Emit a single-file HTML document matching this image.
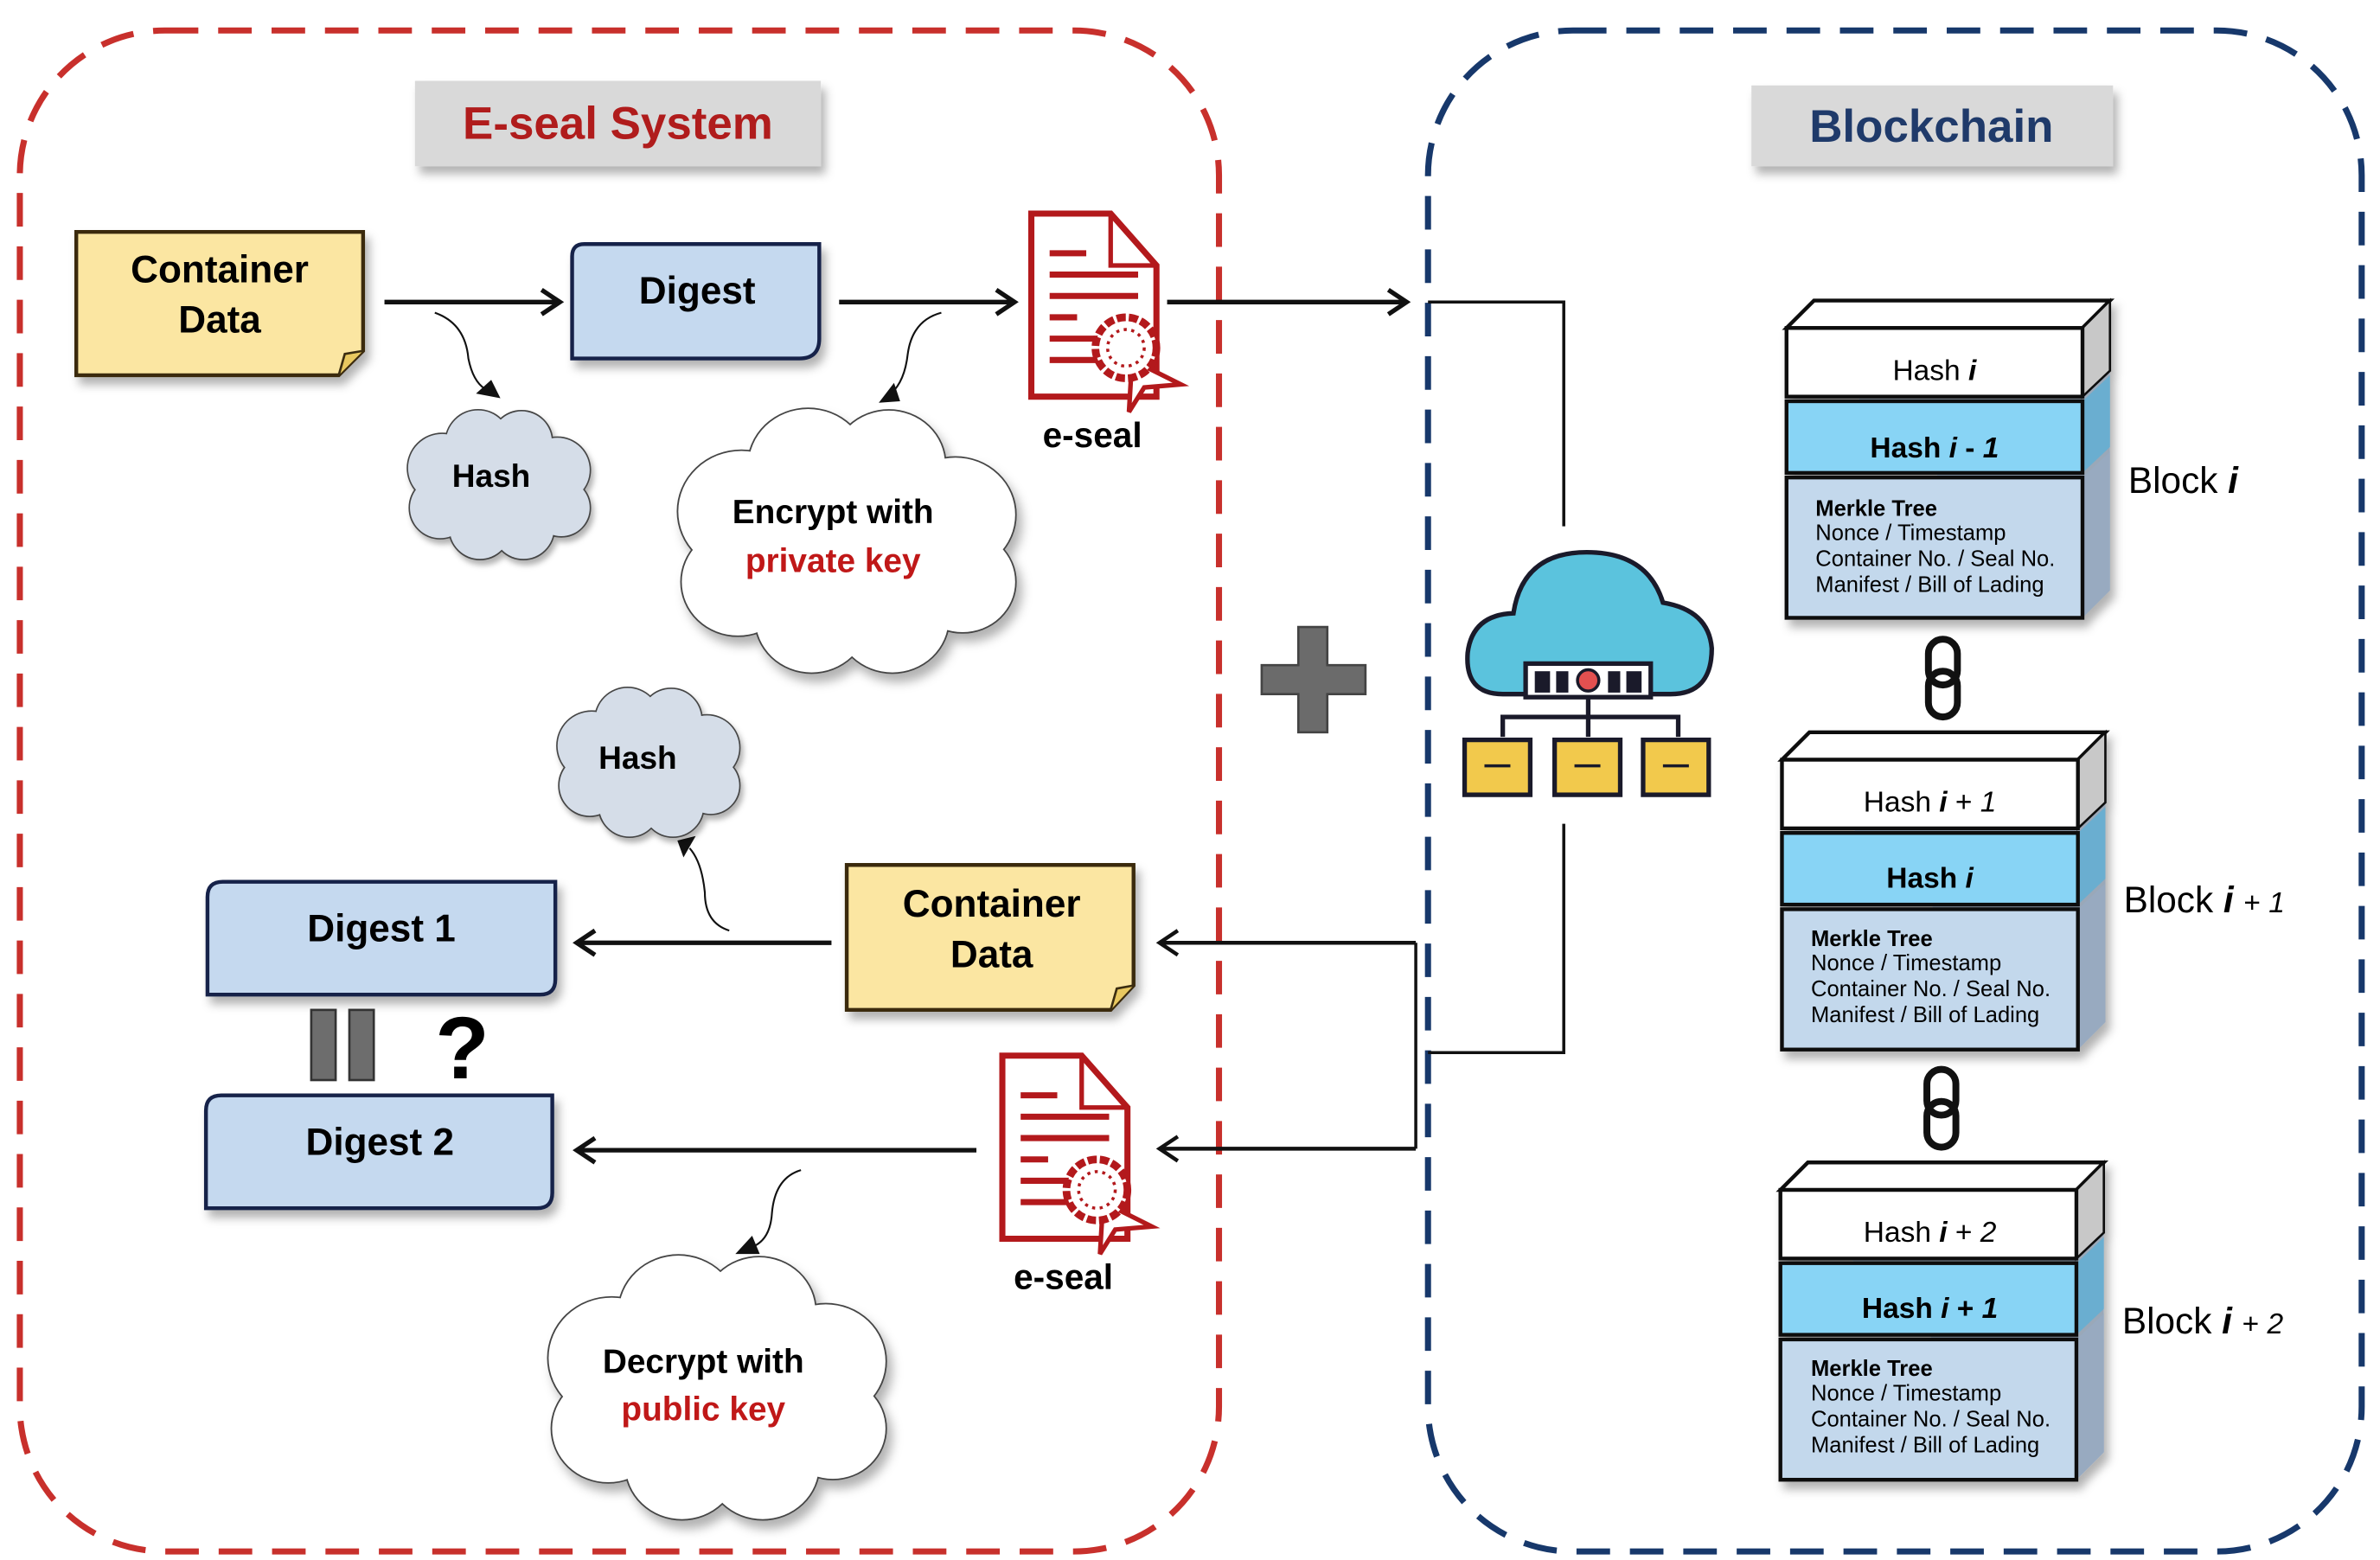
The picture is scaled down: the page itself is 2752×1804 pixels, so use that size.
<!DOCTYPE html>
<html><head><meta charset="utf-8"><style>
html,body{margin:0;padding:0;background:#fff;}
svg{display:block;}
text{font-family:"Liberation Sans Narrow","Liberation Sans",sans-serif;}
</style></head><body>
<svg width="2752" height="1804" viewBox="0 0 1560 1022.6" preserveAspectRatio="none" xmlns="http://www.w3.org/2000/svg">
<defs>
<filter id="sh" x="-10%" y="-10%" width="130%" height="140%"><feDropShadow dx="3" dy="5" stdDeviation="3" flood-color="#000" flood-opacity="0.3"/></filter>
<g id="cloudS">
<circle cx="-60" cy="-18" r="36"/><circle cx="-22" cy="-45" r="34"/><circle cx="24" cy="-46" r="32"/><circle cx="62" cy="-16" r="34"/><circle cx="66" cy="24" r="30"/><circle cx="26" cy="46" r="32"/><circle cx="-20" cy="46" r="32"/><circle cx="-62" cy="24" r="32"/>
</g>
<g id="eseal">
<path d="M0,0 H52 L82,34 V120 H0 Z" fill="#fff" stroke="#b3191c" stroke-width="4"/>
<path d="M52,0 V34 H82" fill="none" stroke="#b3191c" stroke-width="3"/>
<g stroke="#b3191c" stroke-width="4"><line x1="12" y1="26" x2="36" y2="26"/><line x1="12" y1="40" x2="70" y2="40"/><line x1="12" y1="54" x2="70" y2="54"/><line x1="12" y1="68" x2="30" y2="68"/><line x1="12" y1="82" x2="70" y2="82"/><line x1="12" y1="96" x2="44" y2="96"/></g>
<path d="M66,96 L64,130 L74,114 L98,112 Z" fill="#fff" stroke="#b3191c" stroke-width="3"/>
<circle cx="62" cy="88" r="20" fill="#fff" stroke="#b3191c" stroke-width="5" stroke-dasharray="6 2"/>
<circle cx="62" cy="88" r="12" fill="none" stroke="#b3191c" stroke-width="2" stroke-dasharray="2 3"/>
</g>
</defs>

<!-- frames -->
<rect x="13" y="20" width="786" height="997" rx="95" fill="none" stroke="#c8302c" stroke-width="4" stroke-dasharray="22 13"/>
<rect x="936" y="20" width="612" height="997" rx="95" fill="none" stroke="#17386b" stroke-width="4" stroke-dasharray="22 13"/>

<!-- titles -->
<rect x="272" y="53" width="266" height="56" fill="#d9d9d9" filter="url(#sh)"/>
<text x="405" y="91" font-size="30" font-weight="bold" fill="#b01c1c" text-anchor="middle">E-seal System</text>
<rect x="1148" y="56" width="237" height="53" fill="#d9d9d9" filter="url(#sh)"/>
<text x="1266" y="93" font-size="30" font-weight="bold" fill="#1f3a6a" text-anchor="middle">Blockchain</text>

<!-- top row -->
<g filter="url(#sh)"><path d="M50,152 H238 V230 L222,246 H50 Z" fill="#fbe6a2" stroke="#3a2c10" stroke-width="2.5"/></g>
<path d="M222,246 L226,232 L238,230" fill="#e8c860" stroke="#3a2c10" stroke-width="1.5"/>
<text x="144" y="185" font-size="25" font-weight="bold" text-anchor="middle">Container</text>
<text x="144" y="218" font-size="25" font-weight="bold" text-anchor="middle">Data</text>

<g filter="url(#sh)"><path d="M383,160 H537 V222 Q537,235 524,235 H375 V168 Q375,160 383,160 Z" fill="#c5d9ef" stroke="#15224a" stroke-width="2.5"/></g>
<text x="457" y="199" font-size="25" font-weight="bold" text-anchor="middle">Digest</text>

<g stroke="#111" stroke-width="3" fill="none">
<line x1="252" y1="198" x2="367" y2="198"/><polyline points="355,190 367,198 355,206"/>
<line x1="550" y1="198" x2="665" y2="198"/><polyline points="653,190 665,198 653,206"/>
<line x1="765" y1="198" x2="922" y2="198"/><polyline points="910,190 922,198 910,206"/>
<polyline points="936,198 1025,198 1025,345" stroke-width="2"/>
<polyline points="1025,540 1025,690 936,690" stroke-width="2"/>
<polyline points="928,618 928,753" stroke-width="2"/>
<line x1="928" y1="618" x2="760" y2="618" stroke-width="2.5"/><polyline points="772,610 760,618 772,626" stroke-width="2.5"/>
<line x1="928" y1="753" x2="760" y2="753" stroke-width="2.5"/><polyline points="772,745 760,753 772,761" stroke-width="2.5"/>
<line x1="545" y1="618" x2="378" y2="618"/><polyline points="390,610 378,618 390,626"/>
<line x1="640" y1="754" x2="378" y2="754"/><polyline points="390,746 378,754 390,762"/>
</g>
<use href="#eseal" x="676" y="140"/>
<text x="716" y="293" font-size="23" font-weight="bold" text-anchor="middle">e-seal</text>
<use href="#eseal" x="657" y="692"/>
<text x="697" y="845" font-size="23" font-weight="bold" text-anchor="middle">e-seal</text>

<!-- curved arrows -->
<g fill="none" stroke="#111" stroke-width="1.2">
<path d="M285,205 Q305,212 307,235 Q310,250 318,255"/>
<path d="M617,205 Q598,210 595,232 Q593,250 584,258"/>
<path d="M478,610 Q462,605 462,585 Q460,565 452,556"/>
<path d="M525,767 Q508,772 506,795 Q505,812 494,817"/>
</g>
<g fill="#111"><path d="M312,258 L328,261 L322,249 Z"/><path d="M576,264 L590,263 L586,251 Z"/><path d="M444,551 L456,548 L448,562 Z"/><path d="M482,822 L498,822 L493,810 Z"/></g>

<!-- clouds -->
<g transform="translate(327,318) scale(0.62,0.62)" filter="url(#sh)"><use href="#cloudS" fill="none" stroke="#444" stroke-width="3"/><use href="#cloudS" fill="#d5dde8"/><circle r="50" fill="#d5dde8"/></g>
<text x="322" y="319" font-size="21" font-weight="bold" text-anchor="middle">Hash</text>
<g transform="translate(425,500) scale(0.62,0.62)" filter="url(#sh)"><use href="#cloudS" fill="none" stroke="#444" stroke-width="3"/><use href="#cloudS" fill="#d5dde8"/><circle r="50" fill="#d5dde8"/></g>
<text x="418" y="504" font-size="21" font-weight="bold" text-anchor="middle">Hash</text>
<g transform="translate(555,355) scale(1.15,1.1)" filter="url(#sh)"><use href="#cloudS" fill="none" stroke="#444" stroke-width="1.8"/><use href="#cloudS" fill="#fff"/><circle r="50" fill="#fff"/></g>
<text x="546" y="343" font-size="22" font-weight="bold" text-anchor="middle">Encrypt with</text>
<text x="546" y="375" font-size="22" font-weight="bold" fill="#c01818" text-anchor="middle">private key</text>
<g transform="translate(470,910) scale(1.15,1.1)" filter="url(#sh)"><use href="#cloudS" fill="none" stroke="#444" stroke-width="1.8"/><use href="#cloudS" fill="#fff"/><circle r="50" fill="#fff"/></g>
<text x="461" y="900" font-size="22" font-weight="bold" text-anchor="middle">Decrypt with</text>
<text x="461" y="931" font-size="22" font-weight="bold" fill="#c01818" text-anchor="middle">public key</text>

<!-- bottom left -->
<g filter="url(#sh)"><path d="M146,578 H364 V642 Q364,652 354,652 H136 V588 Q136,578 146,578 Z" fill="#c5d9ef" stroke="#15224a" stroke-width="2.5"/></g>
<text x="250" y="617" font-size="25" font-weight="bold" text-anchor="middle">Digest 1</text>
<g filter="url(#sh)"><path d="M145,718 H362 V782 Q362,792 352,792 H135 V728 Q135,718 145,718 Z" fill="#c5d9ef" stroke="#15224a" stroke-width="2.5"/></g>
<text x="249" y="757" font-size="25" font-weight="bold" text-anchor="middle">Digest 2</text>
<rect x="204" y="662" width="16" height="46" fill="#6d6d6d" stroke="#333" stroke-width="1.5"/>
<rect x="229" y="662" width="16" height="46" fill="#6d6d6d" stroke="#333" stroke-width="1.5"/>
<text x="303" y="707" font-size="58" font-weight="bold" text-anchor="middle" font-family="Liberation Sans">?</text>

<g filter="url(#sh)"><path d="M555,567 H743 V646 L728,662 H555 Z" fill="#fbe6a2" stroke="#3a2c10" stroke-width="2.5"/></g>
<path d="M728,662 L732,648 L743,646" fill="#e8c860" stroke="#3a2c10" stroke-width="1.5"/>
<text x="650" y="601" font-size="25" font-weight="bold" text-anchor="middle">Container</text>
<text x="650" y="634" font-size="25" font-weight="bold" text-anchor="middle">Data</text>

<!-- plus -->
<path d="M851,411 H870 V436 H895 V455 H870 V480 H851 V455 H827 V436 H851 Z" fill="#6b6b6b" stroke="#444" stroke-width="1.5"/>

<!-- cloud network icon -->
<g stroke="#1a1a2a" stroke-width="3">
<path d="M985,455 Q960,455 962,428 Q965,403 992,402 Q998,362 1040,362 Q1080,362 1090,395 Q1120,400 1122,425 Q1122,455 1095,455 Z" fill="#5bc3dd"/>
<rect x="1000" y="435" width="82" height="22" fill="#fff"/>
<line x1="1041" y1="457" x2="1041" y2="470"/>
<polyline points="985,483 985,470 1100,470 1100,483" fill="none"/>
<line x1="1041" y1="470" x2="1041" y2="483"/>
<g fill="#f2c94c"><rect x="960" y="485" width="43" height="36"/><rect x="1019" y="485" width="43" height="36"/><rect x="1077" y="485" width="43" height="36"/></g>
<g stroke-width="2"><line x1="973" y1="502" x2="990" y2="502"/><line x1="1032" y1="502" x2="1049" y2="502"/><line x1="1090" y1="502" x2="1107" y2="502"/></g>
</g>
<g fill="#1a1a2a"><rect x="1006" y="440" width="10" height="14"/><rect x="1020" y="440" width="8" height="14"/><rect x="1054" y="440" width="8" height="14"/><rect x="1066" y="440" width="10" height="14"/></g>
<circle cx="1041" cy="446" r="7" fill="#e35050" stroke="#1a1a2a" stroke-width="2"/>

<!-- blocks -->
<g id="blk">
<g filter="url(#sh)">
<path d="M1171,215 L1189,197 H1383 V387 L1365,405 Z" fill="#9aa8b8"/>
<path d="M1171,215 L1189,197 H1383 L1365,215 Z" fill="#fff" stroke="#111" stroke-width="2.5"/>
<path d="M1365,215 L1383,197 V243 L1365,260 Z" fill="#c8c8c8" stroke="#111" stroke-width="1.5"/>
<path d="M1365,263 L1383,246 V293 L1365,310 Z" fill="#6aaed0"/>
<path d="M1365,313 L1383,296 V387 L1365,405 Z" fill="#98aac0"/>
<rect x="1171" y="215" width="194" height="45" fill="#fff" stroke="#111" stroke-width="2.5"/>
<rect x="1171" y="263" width="194" height="47" fill="#88d4f5" stroke="#111" stroke-width="2.5"/>
<rect x="1171" y="313" width="194" height="92" fill="#c3d8ec" stroke="#111" stroke-width="2.5"/>
</g>
</g>
<use href="#blk" x="-3" y="283"/>
<use href="#blk" x="-4" y="565"/>

<g font-size="19" text-anchor="middle">
<text x="1268" y="249">Hash <tspan font-style="italic" font-weight="bold">i</tspan></text>
<text x="1268" y="300" font-weight="bold">Hash <tspan font-style="italic">i</tspan> - <tspan font-style="italic">1</tspan></text>
<text x="1265" y="532">Hash <tspan font-style="italic" font-weight="bold">i</tspan> + <tspan font-style="italic">1</tspan></text>
<text x="1265" y="582" font-weight="bold">Hash <tspan font-style="italic">i</tspan></text>
<text x="1265" y="814">Hash <tspan font-style="italic" font-weight="bold">i</tspan> + <tspan font-style="italic">2</tspan></text>
<text x="1265" y="864" font-weight="bold">Hash <tspan font-style="italic">i</tspan> + <tspan font-style="italic">1</tspan></text>
</g>
<g font-size="14.5">
<text x="1190" y="338" font-weight="bold">Merkle Tree</text><text x="1190" y="354">Nonce / Timestamp</text><text x="1190" y="371">Container No. / Seal No.</text><text x="1190" y="388">Manifest / Bill of Lading</text>
<text x="1187" y="620" font-weight="bold">Merkle Tree</text><text x="1187" y="636">Nonce / Timestamp</text><text x="1187" y="653">Container No. / Seal No.</text><text x="1187" y="670">Manifest / Bill of Lading</text>
<text x="1187" y="902" font-weight="bold">Merkle Tree</text><text x="1187" y="918">Nonce / Timestamp</text><text x="1187" y="935">Container No. / Seal No.</text><text x="1187" y="952">Manifest / Bill of Lading</text>
</g>
<g font-size="24">
<text x="1395" y="323">Block <tspan font-style="italic" font-weight="bold">i</tspan></text>
<text x="1392" y="598">Block <tspan font-style="italic" font-weight="bold">i</tspan> <tspan font-size="19">+ <tspan font-style="italic">1</tspan></tspan></text>
<text x="1391" y="874">Block <tspan font-style="italic" font-weight="bold">i</tspan> <tspan font-size="19">+ <tspan font-style="italic">2</tspan></tspan></text>
</g>

<!-- chain links -->
<g fill="none" stroke="#111" stroke-width="4.5">
<rect x="1264" y="419" width="19" height="30" rx="9.5"/><rect x="1264" y="440" width="19" height="30" rx="9.5"/>
<rect x="1263" y="701" width="19" height="30" rx="9.5"/><rect x="1263" y="722" width="19" height="30" rx="9.5"/>
</g>
</svg>
</body></html>
